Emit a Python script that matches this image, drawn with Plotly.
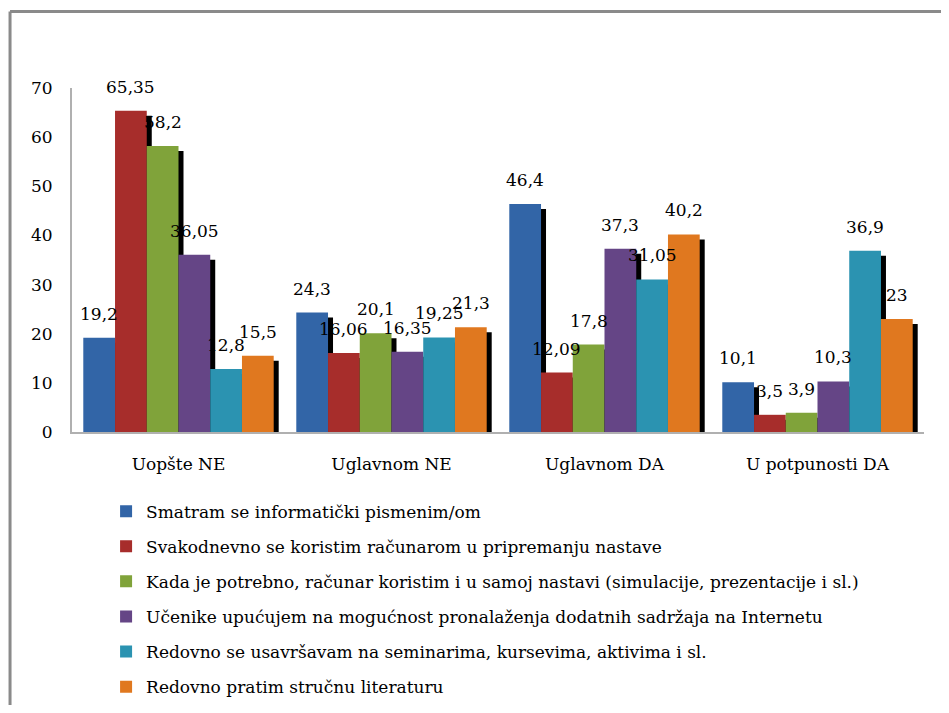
import plotly.graph_objects as go

categories = ["Uopšte NE", "Uglavnom NE", "Uglavnom DA", "U potpunosti DA"]

series_names = [
    "Smatram se informatički pismenim/om",
    "Svakodnevno se koristim računarom u pripremanju nastave",
    "Kada je potrebno, računar koristim i u samoj nastavi (simulacije, prezentacije i sl.)",
    "Učenike upućujem na mogućnost pronalaženja dodatnih sadržaja na Internetu",
    "Redovno se usavršavam na seminarima, kursevima, aktivima i sl.",
    "Redovno pratim stručnu literaturu",
]

s1_values = [19.2, 24.3, 46.4, 10.1]
s2_values = [65.35, 16.06, 12.09, 3.5]
s3_values = [58.2, 20.1, 17.8, 3.9]
s4_values = [36.05, 16.35, 37.3, 10.3]
s5_values = [12.8, 19.25, 31.05, 36.9]
s6_values = [15.5, 21.3, 40.2, 23]

y_ticks = [0, 10, 20, 30, 40, 50, 60, 70]

all_values = [s1_values, s2_values, s3_values, s4_values, s5_values, s6_values]
colors = ["#3265a7", "#a72d2b", "#80a33a", "#654586", "#2b93b1", "#e0781f"]

FONT = "DejaVu Serif"
FS = 17
# page body has an 8px margin on every side; figure sized to fit the 949x713 window
W, H = 933, 697
ML, MR, MT, MB = 63.5, 17, 80, 273
plot_w = W - ML - MR
plot_h = H - MT - MB
cat_px = plot_w / len(categories)

bar_w = 0.149
n = len(all_values)
group_w = bar_w * n
shadow_dx = 5 / cat_px
shadow_dy = 5 / (plot_h / 70)

fig = go.Figure()

# shadows (drawn first, behind the bars)
for i, vals in enumerate(all_values):
    fig.add_trace(go.Bar(
        x=categories, y=vals, base=-shadow_dy,
        offset=-group_w / 2 + i * bar_w + shadow_dx, width=bar_w,
        marker=dict(color="#000000", line=dict(width=0)),
        showlegend=False, hoverinfo="skip",
    ))

for i, (name, vals) in enumerate(zip(series_names, all_values)):
    fig.add_trace(go.Bar(
        x=categories, y=vals, name=name,
        offset=-group_w / 2 + i * bar_w, width=bar_w,
        marker=dict(color=colors[i], line=dict(width=0)),
        legendgroup=f"g{i}",
    ))

annotations = []
for i, vals in enumerate(all_values):
    for c, v in zip(categories, vals):
        annotations.append(dict(
            x=c, y=v, xref="x", yref="y",
            text=f"{v:g}".replace(".", ","),
            showarrow=False,
            xshift=(-group_w / 2 + (i + 0.5) * bar_w) * cat_px,
            yshift=24, yanchor="middle", xanchor="center",
            font=dict(family=FONT, size=FS, color="#000000"),
        ))

bx = (1.5 - ML) / plot_w
by = (H - MB - 3.5) / plot_h

fig.update_layout(
    width=W, height=H,
    margin=dict(l=ML, r=MR, t=MT, b=MB, autoexpand=False),
    paper_bgcolor="#ffffff", plot_bgcolor="#ffffff",
    barmode="overlay",
    font=dict(family=FONT, size=FS, color="#000000"),
    annotations=annotations,
    legend=dict(
        x=0.040, y=-0.179, xanchor="left", yanchor="top",
        font=dict(family=FONT, size=FS, color="#000000"),
        tracegroupgap=10, bgcolor="rgba(0,0,0,0)",
    ),
    shapes=[
        dict(type="line", xref="paper", yref="paper",
             x0=bx, x1=1.5, y0=by, y1=by,
             line=dict(color="#8a8a8a", width=3), layer="below"),
        dict(type="line", xref="paper", yref="paper",
             x0=bx, x1=bx, y0=by, y1=-2.0,
             line=dict(color="#8a8a8a", width=3), layer="below"),
    ],
)

fig.update_xaxes(
    showline=True, linecolor="#b0b0b0", linewidth=2,
    showgrid=False, ticks="", ticklabelstandoff=16,
    tickfont=dict(family=FONT, size=FS, color="#000000"),
)
fig.update_yaxes(
    range=[0, 70], tickvals=y_ticks,
    showline=True, linecolor="#b0b0b0", linewidth=2,
    showgrid=False, zeroline=False, ticks="", ticklabelstandoff=14,
    tickfont=dict(family=FONT, size=FS, color="#000000"),
)

fig.write_html("out.html")
